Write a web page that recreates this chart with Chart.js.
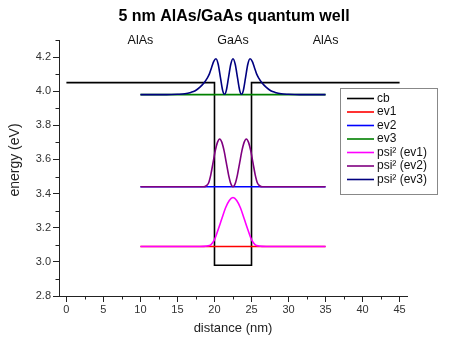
<!DOCTYPE html>
<html>
<head>
<meta charset="utf-8">
<script src="https://cdn.jsdelivr.net/npm/chart.js@4/dist/chart.umd.min.js"></script>
<style>
  html, body { margin: 0; padding: 0; background: #fff; }
  canvas { display: block; }
</style>
</head>
<body>
<canvas id="c" width="449" height="344"></canvas>
<script>
// ---------- data ----------
const chartTitle = '5 nm AlAs/GaAs quantum well';
const xTitle = 'distance (nm)';
const yTitle = 'energy (eV)';
const regionNames = ['AlAs', 'GaAs', 'AlAs'];
const regionCenters = [10, 22.5, 35];

const xTicks = [0, 5, 10, 15, 20, 25, 30, 35, 40, 45];
const xMinorTicks = [2.5, 7.5, 12.5, 17.5, 22.5, 27.5, 32.5, 37.5, 42.5];
const yTicks = [2.8, 3.0, 3.2, 3.4, 3.6, 3.8, 4.0, 4.2];
const yMinorTicks = [2.9, 3.1, 3.3, 3.5, 3.7, 3.9, 4.1, 4.3];

const seriesNames = ['cb', 'ev1', 'ev2', 'ev3', 'psi\u00b2 (ev1)', 'psi\u00b2 (ev2)', 'psi\u00b2 (ev3)'];
const seriesColors = ['#000000', '#ff0000', '#0000ff', '#008000', '#ff00ff', '#800080', '#000080'];

const cbX = [0, 20, 20, 25, 25, 45];
const cbY = [4.05, 4.05, 2.98, 2.98, 4.05, 4.05];

const evX = [10, 35];
const ev1Y = [3.09, 3.09];
const ev2Y = [3.44, 3.44];
const ev3Y = [3.98, 3.98];

const psi1X = [10, 18.0, 19.0, 19.5, 20.0, 20.5, 21.0, 21.5, 22.0, 22.5, 23.0, 23.5, 24.0, 24.5, 25.0, 25.5, 26.0, 27.0, 35];
const psi1Y = [3.09, 3.09, 3.093, 3.10, 3.13, 3.19, 3.254, 3.317, 3.36, 3.377, 3.36, 3.317, 3.254, 3.19, 3.13, 3.10, 3.093, 3.09, 3.09];

const psi2X = [10, 18.5, 18.9, 19.2, 19.5, 19.8, 20.1, 20.4, 20.7, 21.0, 21.3, 21.6, 21.9, 22.2, 22.5,
               22.8, 23.1, 23.4, 23.7, 24.0, 24.3, 24.6, 24.9, 25.2, 25.5, 25.8, 26.1, 26.5, 35];
const psi2Y = [3.44, 3.44, 3.446, 3.462, 3.51, 3.58, 3.65, 3.70, 3.72, 3.70, 3.65, 3.58, 3.51, 3.459, 3.44,
               3.459, 3.51, 3.58, 3.65, 3.70, 3.72, 3.70, 3.65, 3.58, 3.51, 3.462, 3.446, 3.44, 3.44];

const psi3X = [10, 13.5, 15.0, 16.0, 16.8, 17.4, 18.0, 18.6, 19.0, 19.3, 19.6, 19.9, 20.2, 20.5, 20.8, 21.1, 21.35, 21.6, 21.9, 22.2, 22.5,
               22.8, 23.1, 23.4, 23.65, 23.9, 24.2, 24.5, 24.8, 25.1, 25.4, 25.7, 26.0, 26.4, 27.0, 27.6, 28.2, 29.0, 30.0, 31.5, 35];
const psi3Y = [3.98, 3.98, 3.982, 3.985, 3.993, 4.003, 4.022, 4.049, 4.075, 4.10, 4.138, 4.175, 4.19, 4.158, 4.081, 4.005, 3.982, 4.005, 4.081, 4.158, 4.19,
               4.158, 4.081, 4.005, 3.982, 4.005, 4.081, 4.158, 4.19, 4.175, 4.138, 4.10, 4.075, 4.049, 4.022, 4.003, 3.993, 3.985, 3.982, 3.98, 3.98];

// ---------- build ----------
const pts = (X, Y) => X.map((v, i) => ({ x: v, y: Y[i] }));
const seriesData = [
  pts(cbX, cbY), pts(evX, ev1Y), pts(evX, ev2Y), pts(evX, ev3Y),
  pts(psi1X, psi1Y), pts(psi2X, psi2Y), pts(psi3X, psi3Y)
];

const FONT = '"Liberation Sans", Arial, sans-serif';
const AXIS_COLOR = '#222';

const datasets = seriesData.map((d, i) => ({
  label: seriesNames[i],
  data: d,
  borderColor: seriesColors[i],
  backgroundColor: seriesColors[i],
  borderWidth: 1.6,
  pointRadius: 0,
  fill: false,
  tension: 0,
  cubicInterpolationMode: i >= 4 ? 'monotone' : 'default',
  order: seriesNames.length - i
}));

const decor = {
  id: 'decor',
  afterDraw(chart) {
    const ctx = chart.ctx;
    const xs = chart.scales.x, ys = chart.scales.y;
    const ca = chart.chartArea;
    ctx.save();
    // minor ticks
    ctx.strokeStyle = AXIS_COLOR;
    ctx.lineWidth = 1;
    xMinorTicks.forEach(v => {
      const px = Math.round(xs.getPixelForValue(v)) + 0.5;
      ctx.beginPath(); ctx.moveTo(px, ca.bottom); ctx.lineTo(px, ca.bottom + 3.5); ctx.stroke();
    });
    yMinorTicks.forEach(v => {
      const py = Math.round(ys.getPixelForValue(v)) + 0.5;
      ctx.beginPath(); ctx.moveTo(ca.left, py); ctx.lineTo(ca.left - 3.5, py); ctx.stroke();
    });
    // title
    const cx = (ca.left + ca.right) / 2;
    ctx.fillStyle = '#000';
    ctx.textAlign = 'center';
    ctx.textBaseline = 'middle';
    ctx.font = 'bold 16px ' + FONT;
    ctx.fillText(chartTitle, cx + 1, 17);
    // region labels
    ctx.font = '12.5px ' + FONT;
    ctx.fillStyle = '#111';
    regionNames.forEach((t, i) => {
      ctx.fillText(t, xs.getPixelForValue(regionCenters[i]), 41);
    });
    // axis titles
    ctx.font = '13px ' + FONT;
    ctx.fillStyle = '#222';
    ctx.fillText(xTitle, cx, 328);
    ctx.save();
    ctx.translate(15, 160);
    ctx.rotate(-Math.PI / 2);
    ctx.font = '14px ' + FONT;
    ctx.fillText(yTitle, 0, 0);
    ctx.restore();
    // legend
    const bx = 340.5, by = 88.5, bw = 97, bh = 106;
    ctx.fillStyle = '#fff';
    ctx.fillRect(bx, by, bw, bh);
    ctx.strokeStyle = '#888';
    ctx.lineWidth = 1;
    ctx.strokeRect(bx, by, bw, bh);
    ctx.font = '12px ' + FONT;
    ctx.textAlign = 'left';
    seriesNames.forEach((n, i) => {
      const y = 98.5 + i * 13.5;
      ctx.strokeStyle = seriesColors[i];
      ctx.lineWidth = 1.6;
      ctx.beginPath(); ctx.moveTo(347, y); ctx.lineTo(374, y); ctx.stroke();
      ctx.fillStyle = '#111';
      ctx.fillText(n, 377, y);
    });
    ctx.restore();
  }
};

new Chart(document.getElementById('c'), {
  type: 'line',
  data: { datasets },
  options: {
    responsive: false,
    animation: false,
    devicePixelRatio: 1,
    layout: { padding: { left: 0, right: 42, top: 40, bottom: 0 } },
    plugins: { legend: { display: false }, tooltip: { enabled: false }, title: { display: false } },
    scales: {
      x: {
        type: 'linear',
        min: -1, max: 46,
        afterFit: s => { s.height = 48; },
        afterBuildTicks: s => { s.ticks = xTicks.map(v => ({ value: v })); },
        grid: { drawOnChartArea: false, drawTicks: true, tickLength: 6, color: AXIS_COLOR, tickColor: AXIS_COLOR },
        border: { display: true, color: AXIS_COLOR, width: 1 },
        ticks: { padding: 1, color: '#333', font: { family: FONT, size: 11 }, maxRotation: 0, autoSkip: false,
                 callback: v => String(v) }
      },
      y: {
        type: 'linear',
        min: 2.8, max: 4.3,
        afterFit: s => { s.width = 59; },
        afterBuildTicks: s => { s.ticks = yTicks.map(v => ({ value: v })); },
        grid: { drawOnChartArea: false, drawTicks: true, tickLength: 6, color: AXIS_COLOR, tickColor: AXIS_COLOR },
        border: { display: true, color: AXIS_COLOR, width: 1 },
        ticks: { padding: 2, color: '#333', font: { family: FONT, size: 11 }, autoSkip: false,
                 callback: v => Number(v).toFixed(1) }
      }
    }
  },
  plugins: [decor]
});
</script>
</body>
</html>
